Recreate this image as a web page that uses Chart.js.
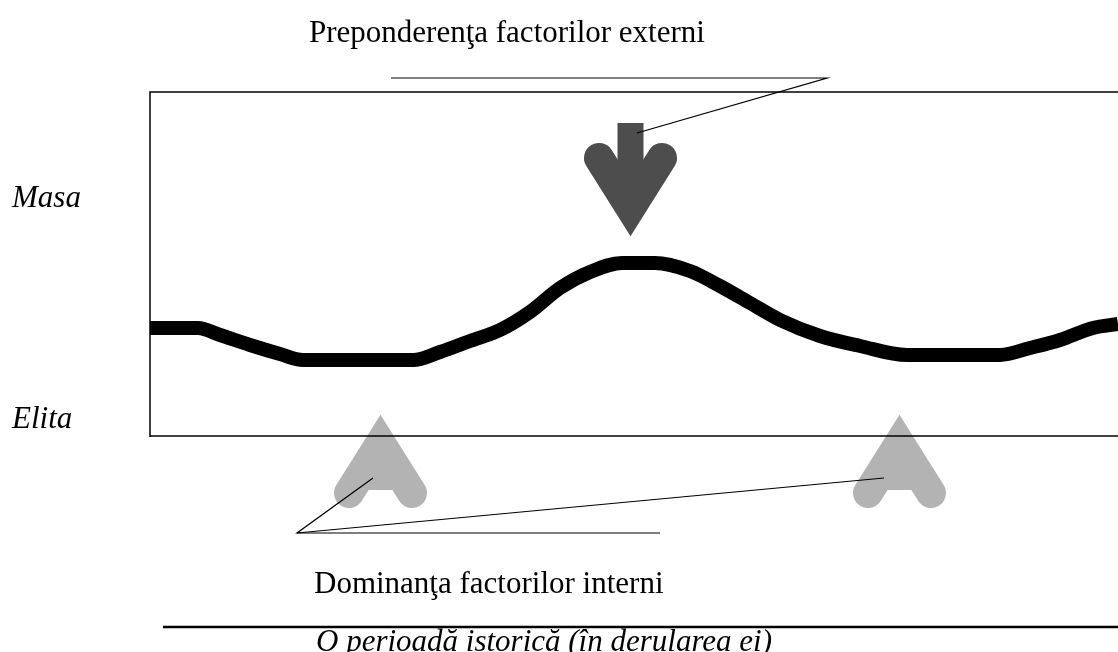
<!DOCTYPE html>
<html>
<head>
<meta charset="utf-8">
<script src="https://cdn.jsdelivr.net/npm/chart.js@4"></script>
<style>
  html, body { margin: 0; padding: 0; background: #fff; }
  #diagram { display: block; }
</style>
</head>
<body>
<canvas id="diagram" width="1118" height="652"></canvas>
<script>
// the wave: position along the period (x) and level between masa / elita (y)
const curveX = [150, 198, 220, 250, 280, 303, 413, 440, 470, 500, 530, 560, 590, 622, 655, 690, 720, 750, 780, 820, 860, 907, 1000, 1030, 1060, 1093, 1118];
const curveY = [328, 328, 335, 345, 354, 360, 360, 352, 341, 330, 312, 288, 272, 263, 263, 271, 286, 303, 320, 336, 346, 355, 355, 348, 340, 328, 324];

// frame and time axis
const frameX = [150, 150, 1118];
const frameY = [437, 92, 92];
const floorX = [150, 1118];
const floorY = [436, 436];
const timeX = [163, 1118];
const timeY = [627, 627];

// arrows: centre, lobe row, V vertex, shaft from/to
const arrowX = [630.5, 380.5, 899.5];
const arrowLobeY = [158, 493, 493];
const arrowVertexY = [208, 443, 443];
const arrowShaftFrom = [123, 468, 468];
const arrowShaftTo = [185, 490, 490];
const arrowLobeDx = 31.5;
const arrowColors = ['#4d4d4d', '#b3b3b3', '#b3b3b3'];

// pointer lines from the captions
const pointerTopX = [391, 827, 637];
const pointerTopY = [78, 78, 133];
const pointerLowX = [660, 297, 373];
const pointerLowY = [533, 533, 478];
const pointerLow2X = [297, 884];
const pointerLow2Y = [533, 478];

const captions = [
    { text: 'Preponderenţa factorilor externi', x: 309, y: 42, italic: false },
    { text: 'Masa', x: 12, y: 207, italic: true },
    { text: 'Elita', x: 12, y: 428, italic: true },
    { text: 'Dominanţa factorilor interni', x: 314, y: 593, italic: false },
    { text: 'O perioadă istorică (în derularea ei)', x: 316, y: 651, italic: true }
];

function pts(xs, ys) {
    return xs.map((x, i) => ({ x: x, y: ys[i] }));
}

function line(xs, ys, width, color, order) {
    return {
        data: pts(xs, ys),
        borderColor: color,
        borderWidth: width,
        pointRadius: 0,
        tension: 0,
        fill: false,
        clip: false,
        order: order
    };
}

let datasets = [];

// arrows (heads as thick V with round ends, plus the shaft)
arrowX.forEach((cx, i) => {
    let head = line(
        [cx - arrowLobeDx, cx, cx + arrowLobeDx],
        [arrowLobeY[i], arrowVertexY[i], arrowLobeY[i]],
        30, arrowColors[i], 6);
    head.borderCapStyle = 'round';
    head.borderJoinStyle = 'miter';
    datasets.push(head);

    let shaft = line([cx, cx], [arrowShaftFrom[i], arrowShaftTo[i]], i === 0 ? 26 : 27, arrowColors[i], 6);
    shaft.borderCapStyle = 'butt';
    datasets.push(shaft);
});

let wave = line(curveX, curveY, 14, '#000', 4);
wave.cubicInterpolationMode = 'monotone';
datasets.push(wave);

datasets.push(line(frameX, frameY, 1.5, '#000', 3));
datasets.push(line(floorX, floorY, 1.5, '#000', 3));
datasets.push(line(timeX, timeY, 2.5, '#000', 3));
datasets.push(line(pointerTopX, pointerTopY, 1.2, '#000', 1));
datasets.push(line(pointerLowX, pointerLowY, 1.2, '#000', 1));
datasets.push(line(pointerLow2X, pointerLow2Y, 1.2, '#000', 1));

const captionPlugin = {
    id: 'captions',
    afterDatasetsDraw(chart) {
        const ctx = chart.ctx;
        const xs = chart.scales.x, ys = chart.scales.y;
        ctx.save();
        ctx.fillStyle = '#000';
        ctx.textAlign = 'left';
        ctx.textBaseline = 'alphabetic';
        captions.forEach(c => {
            ctx.font = (c.italic ? 'italic ' : '') + '31px "Liberation Serif", "Times New Roman", serif';
            ctx.fillText(c.text, xs.getPixelForValue(c.x), ys.getPixelForValue(c.y));
        });
        ctx.restore();
    }
};

new Chart(document.getElementById('diagram'), {
    type: 'line',
    data: { datasets: datasets },
    options: {
        responsive: false,
        animation: false,
        events: [],
        layout: { padding: 0 },
        scales: {
            x: { type: 'linear', min: 0, max: 1118, display: false },
            y: { type: 'linear', min: 0, max: 652, reverse: true, display: false }
        },
        plugins: {
            legend: { display: false },
            tooltip: { enabled: false }
        }
    },
    plugins: [captionPlugin]
});
</script>
</body>
</html>
